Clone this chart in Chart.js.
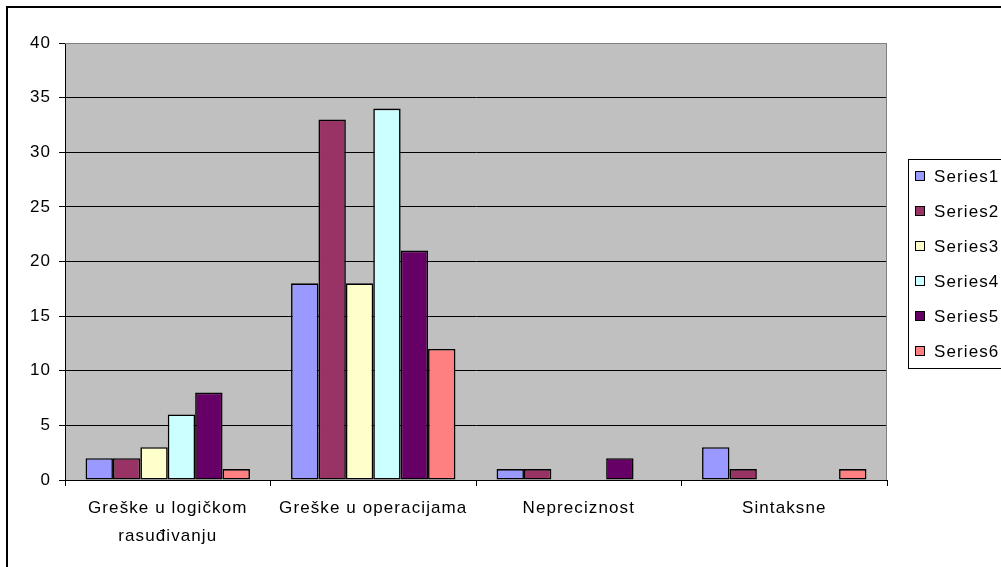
<!DOCTYPE html>
<html>
<head>
<meta charset="utf-8">
<style>
  html, body { margin: 0; padding: 0; background: #fff; }
  #wrap { width: 1001px; height: 567px; }
</style>
<script src="https://cdn.jsdelivr.net/npm/chart.js@4/dist/chart.umd.min.js"></script>
</head>
<body>
<div id="wrap"><canvas id="barChart" width="1001" height="567"></canvas></div>
<script>
const categories = [
  ["Greške u logičkom", "rasuđivanju"],
  "Greške u operacijama",
  "Nepreciznost",
  "Sintaksne"
];
const seriesNames = ["Series1", "Series2", "Series3", "Series4", "Series5", "Series6"];
const series1 = [2, 18, 1, 3];
const series2 = [2, 33, 1, 1];
const series3 = [3, 18, 0, 0];
const series4 = [6, 34, 0, 0];
const series5 = [8, 21, 2, 0];
const series6 = [1, 12, 0, 1];
const yTicks = [0, 5, 10, 15, 20, 25, 30, 35, 40];

const seriesColors = ["#9999FF", "#993366", "#FFFFCC", "#CCFFFF", "#660066", "#FF8080"];
const FONT = "'Liberation Sans', Arial, sans-serif";
const SPACING = "1.1px";

// plot background, outer frame and the legend box
const excelLook = {
  id: "excelLook",
  beforeDraw(chart) {
    const { ctx, chartArea: a } = chart;
    ctx.letterSpacing = SPACING;
    ctx.save();
    ctx.fillStyle = "#fff";
    ctx.fillRect(0, 0, chart.width, chart.height);
    ctx.strokeStyle = "#000";
    ctx.lineWidth = 2;
    ctx.strokeRect(7, 7, chart.width + 20, chart.height + 20);
    ctx.fillStyle = "#C0C0C0";
    ctx.fillRect(a.left, a.top, a.right - a.left, a.bottom - a.top);
    ctx.restore();
  },
  afterDraw(chart) {
    const { ctx, chartArea: a } = chart;
    ctx.save();
    ctx.strokeStyle = "#808080";
    ctx.lineWidth = 1;
    ctx.beginPath();
    ctx.moveTo(a.left, a.top + 0.5);
    ctx.lineTo(a.right - 0.5, a.top + 0.5);
    ctx.lineTo(a.right - 0.5, a.bottom);
    ctx.stroke();

    // legend
    const lx = 908, ly = 159, lh = 209;
    ctx.strokeStyle = "#000";
    ctx.strokeRect(lx + 0.5, ly + 0.5, 200, lh);
    ctx.font = "17px " + FONT;
    ctx.letterSpacing = SPACING;
    ctx.textBaseline = "middle";
    ctx.textAlign = "left";
    chart.data.datasets.forEach((ds, i) => {
      const cy = 176 + i * 35;
      ctx.fillStyle = ds.backgroundColor;
      ctx.fillRect(915, cy - 5, 9, 9);
      ctx.strokeStyle = "#000";
      ctx.lineWidth = 1;
      ctx.strokeRect(915.5, cy - 4.5, 9, 9);
      ctx.fillStyle = "#000";
      ctx.fillText(ds.label, 934, cy + 1);
    });
    ctx.restore();
  }
};

const allSeries = [series1, series2, series3, series4, series5, series6];

new Chart(document.getElementById("barChart").getContext("2d"), {
  type: "bar",
  data: {
    labels: categories,
    datasets: allSeries.map((values, i) => ({
      label: seriesNames[i],
      data: values,
      backgroundColor: seriesColors[i],
      borderColor: "#000",
      borderWidth: ctx => (ctx.raw === 0 ? 0 : 1.6),
      borderSkipped: false,
      categoryPercentage: 0.8,
      barPercentage: 1
    }))
  },
  options: {
    responsive: false,
    animation: false,
    layout: { padding: { left: 0, top: 43, right: 114, bottom: 0 } },
    plugins: {
      legend: { display: false },
      tooltip: { enabled: false }
    },
    scales: {
      x: {
        afterFit: s => { s.height = 87; },
        grid: {
          offset: true,
          drawOnChartArea: false,
          drawTicks: true,
          tickLength: 6,
          color: "#000"
        },
        border: { color: "#000", width: 1 },
        ticks: {
          color: "#000",
          padding: 8,
          maxRotation: 0,
          font: { family: FONT, size: 17, lineHeight: 1.65 }
        }
      },
      y: {
        min: 0,
        max: 40,
        afterFit: s => { s.width = 65; },
        afterBuildTicks: s => { s.ticks = yTicks.map(v => ({ value: v })); },
        grid: {
          color: c => (c.tick && c.tick.value === 40 ? "#808080" : "#000"),
          tickColor: "#000",
          tickLength: 6,
          lineWidth: 1
        },
        border: { color: "#000", width: 1 },
        ticks: {
          color: "#000",
          padding: 8,
          font: { family: FONT, size: 17 }
        }
      }
    }
  },
  plugins: [excelLook]
});
</script>
</body>
</html>
